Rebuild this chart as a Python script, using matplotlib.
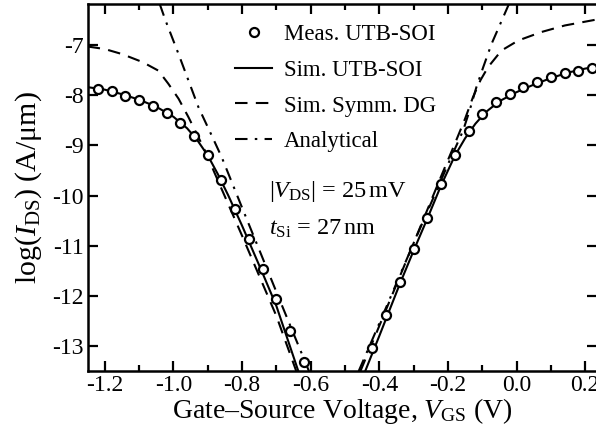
import numpy as np
import matplotlib
matplotlib.use("Agg")
import matplotlib.pyplot as plt

plt.rcParams['font.family'] = ['Liberation Serif', 'DejaVu Serif']
plt.rcParams['mathtext.fontset'] = 'custom'
plt.rcParams['mathtext.rm'] = 'Liberation Serif'
plt.rcParams['mathtext.it'] = 'Liberation Serif:italic'
plt.rcParams['axes.unicode_minus'] = False

# measured UTB-SOI (circles)
meas_v = [-1.22, -1.18, -1.14, -1.10, -1.06, -1.02, -0.98, -0.94, -0.90, -0.86,
          -0.82, -0.78, -0.74, -0.70, -0.66, -0.62,
          -0.42, -0.38, -0.34, -0.30, -0.26, -0.22, -0.18, -0.14, -0.10, -0.06,
          -0.02, 0.02, 0.06, 0.10, 0.14, 0.18, 0.22]
meas_i = [-7.87, -7.92, -8.01, -8.09, -8.21, -8.35, -8.55, -8.81, -9.19, -9.69,
          -10.26, -10.86, -11.46, -12.07, -12.71, -13.31,
          -13.04, -12.39, -11.72, -11.06, -10.44, -9.77, -9.19, -8.71, -8.37, -8.13,
          -7.97, -7.83, -7.73, -7.64, -7.56, -7.51, -7.46]

# simulated UTB-SOI (solid)
sim_left_v = [-1.25, -1.20, -1.15, -1.10, -1.05, -1.00, -0.96, -0.93, -0.90, -0.87, -0.84, -0.80, -0.74, -0.70, -0.636]
sim_left_i = [-7.84, -7.89, -7.98, -8.09, -8.23, -8.43, -8.66, -8.90, -9.20, -9.58, -10.00, -10.60, -11.55, -12.20, -13.50]
sim_right_v = [-0.441, -0.40, -0.34, -0.30, -0.26, -0.22, -0.18, -0.15, -0.12, -0.09, -0.05, 0.00, 0.05, 0.10, 0.15, 0.20, 0.235]
sim_right_i = [-13.50, -12.80, -11.76, -11.10, -10.46, -9.80, -9.21, -8.86, -8.57, -8.34, -8.12, -7.94, -7.79, -7.66, -7.55, -7.47, -7.43]

# simulated symmetric DG (dashed)
dg_left_v = [-1.25, -1.20, -1.15, -1.09, -1.044, -1.015, -0.985, -0.956, -0.927, -0.905, -0.88, -0.80, -0.70, -0.642]
dg_left_i = [-7.03, -7.08, -7.18, -7.34, -7.51, -7.77, -8.07, -8.44, -8.84, -9.15, -9.55, -10.80, -12.40, -13.50]
dg_right_v = [-0.455, -0.40, -0.30, -0.22, -0.18, -0.15, -0.127, -0.105, -0.083, -0.044, 0.005, 0.073, 0.141, 0.235]
dg_right_i = [-13.50, -12.60, -10.95, -9.62, -8.97, -8.47, -8.04, -7.70, -7.44, -7.11, -6.91, -6.74, -6.61, -6.49]

# analytical (dash-dot)
an_left_v = [-1.04, -1.023, -0.985, -0.956, -0.927, -0.888, -0.859, -0.80, -0.70, -0.605]
an_left_i = [-6.18, -6.51, -7.18, -7.71, -8.24, -8.81, -9.24, -10.24, -11.92, -13.50]
an_right_v = [-0.460, -0.40, -0.30, -0.20, -0.156, -0.137, -0.117, -0.097, -0.073, -0.050, -0.022]
an_right_i = [-13.50, -12.55, -10.95, -9.38, -8.71, -8.31, -7.84, -7.44, -6.98, -6.62, -6.18]

fig = plt.figure(figsize=(5.96, 4.30), dpi=100)
ax = fig.add_axes([0.147, 0.137, 0.855, 0.854])

lw = 1.5
ax.plot(meas_v, meas_i, 'o', ms=6.5, mfc='white', mec='black', mew=1.6, zorder=5,
        label='Meas. UTB-SOI')
ax.plot(sim_left_v, sim_left_i, '-', color='black', lw=lw, label='Sim. UTB-SOI')
ax.plot(sim_right_v, sim_right_i, '-', color='black', lw=lw)
ax.plot(dg_left_v, dg_left_i, '--', color='black', lw=lw, dashes=(6, 4), label='Sim. Symm. DG')
ax.plot(dg_right_v, dg_right_i, '--', color='black', lw=lw, dashes=(6, 4))
ax.plot(an_left_v, an_left_i, '-.', color='black', lw=lw, dashes=(6, 3.5, 1.2, 3.5), label='Analytical')
ax.plot(an_right_v, an_right_i, '-.', color='black', lw=lw, dashes=(6, 3.5, 1.2, 3.5))

ax.set_xlim(-1.25, 0.235)
ax.set_ylim(-13.5, -6.18)
ax.set_xticks(np.arange(-1.2, 0.21, 0.2))
ax.set_xticks(np.arange(-1.2, 0.25, 0.1), minor=True)
ax.set_xticklabels(['-1.2', '-1.0', '-0.8', '-0.6', '-0.4', '-0.2', '0.0', '0.2'])
ax.set_yticks([-13, -12, -11, -10, -9, -8, -7])
ax.set_yticklabels(['-13', '-12', '-11', '-10', '-9', '-8', '-7'])
ax.tick_params(which='both', direction='in', top=True, right=True, width=1.6, labelsize=17)
ax.tick_params(which='major', length=7, pad=3)
ax.tick_params(which='minor', length=4)
for s in ax.spines.values():
    s.set_linewidth(1.8)

ax.set_xlabel(r'Gate–Source Voltage, $V_{\rm GS}$ (V)', fontsize=20, labelpad=0)
ax.set_ylabel(r'log($I_{\rm DS}$) (A/μm)', fontsize=21.5, labelpad=6)

leg = ax.legend(loc='upper left', bbox_to_anchor=(0.272, 0.97), frameon=False, fontsize=16.5,
                handlelength=1.6, handletextpad=0.5, labelspacing=0.64, borderaxespad=0,
                borderpad=0.4)

ax.text(0.355, 0.49, r'$|V_{\rm DS}|$ = 25$\,$mV', transform=ax.transAxes, fontsize=17.5, va='center')
ax.text(0.355, 0.387, r'$t_{\rm Si}$ = 27$\,$nm', transform=ax.transAxes, fontsize=17.5, va='center')

fig.savefig('out.png', dpi=100)
